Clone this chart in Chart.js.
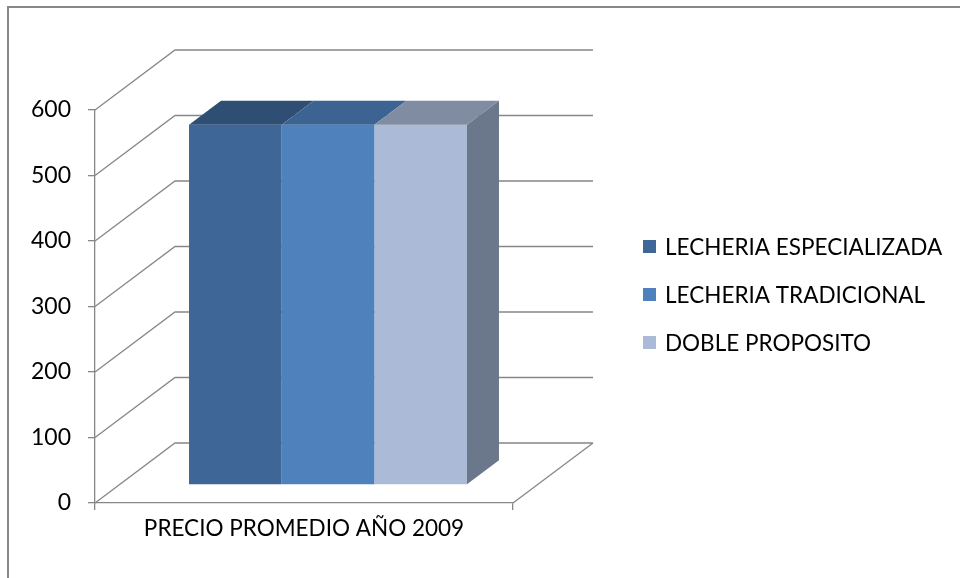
<!DOCTYPE html>
<html><head><meta charset="utf-8">
<script src="https://cdn.jsdelivr.net/npm/chart.js@4/dist/chart.umd.min.js"></script>
<style>
html,body{margin:0;padding:0;background:#fff;}
#wrap{position:relative;width:960px;height:578px;overflow:hidden;}
#frame{position:absolute;left:7px;top:6px;width:1000px;height:700px;border-left:2px solid #888;border-top:2px solid #888;}
canvas{position:absolute;left:0;top:0;}
</style></head>
<body><div id="wrap"><div id="frame"></div><canvas id="c" width="960" height="578"></canvas></div>
<script>
const categories = ["PRECIO PROMEDIO AÑO 2009"];
const seriesNames = ["LECHERIA ESPECIALIZADA", "LECHERIA TRADICIONAL", "DOBLE PROPOSITO"];
const lecheriaEspecializada = [550];
const lecheriaTradicional = [550];
const dobleProposito = [550];
const yTicks = [0, 100, 200, 300, 400, 500, 600];

const frontColors = ["#3E6697", "#4F81BD", "#AABAD7"];
const topColors = ["#2E4E74", "#3C6391", "#7F8CA2"];
const sideColor = "#6B778B";
const gridColor = "#878787";
const FONT = "Lato, 'Open Sans', sans-serif";

// 3D geometry: floor depth vector, bar depth range
const DEPTH = {dx: 80, dy: -60};
const BAR_FRONT = 0.3, BAR_BACK = 0.7;

const threeD = {
  id: 'threeD',
  beforeDatasetsDraw(chart) {
    const ctx = chart.ctx, y = chart.scales.y;
    const L = chart.chartArea.left, R = chart.chartArea.right;
    ctx.save();
    ctx.strokeStyle = gridColor; ctx.lineWidth = 1.3;
    ctx.beginPath();
    yTicks.forEach(v => {
      const py = y.getPixelForValue(v);
      ctx.moveTo(L, py);
      ctx.lineTo(L + DEPTH.dx, py + DEPTH.dy);
      ctx.lineTo(R + DEPTH.dx, py + DEPTH.dy);
    });
    const p0 = y.getPixelForValue(0);
    ctx.moveTo(R, p0);
    ctx.lineTo(R + DEPTH.dx, p0 + DEPTH.dy);
    ctx.stroke();
    ctx.restore();
    chart.ctx.save();
    chart.ctx.translate(DEPTH.dx * BAR_FRONT, DEPTH.dy * BAR_FRONT);
  },
  afterDatasetsDraw(chart) {
    const ctx = chart.ctx;
    const bx = DEPTH.dx * (BAR_BACK - BAR_FRONT), by = DEPTH.dy * (BAR_BACK - BAR_FRONT);
    const metas = chart.data.datasets.map((d, i) => chart.getDatasetMeta(i));
    metas.forEach((meta, i) => {
      meta.data.forEach(bar => {
        const p = bar.getProps(['x', 'y', 'base', 'width'], true);
        const x1 = p.x - p.width / 2, x2 = p.x + p.width / 2;
        ctx.fillStyle = topColors[i];
        ctx.beginPath();
        ctx.moveTo(x1, p.y); ctx.lineTo(x1 + bx, p.y + by);
        ctx.lineTo(x2 + bx, p.y + by); ctx.lineTo(x2, p.y);
        ctx.closePath(); ctx.fill();
        if (i === metas.length - 1) {
          ctx.fillStyle = sideColor;
          ctx.beginPath();
          ctx.moveTo(x2, p.y); ctx.lineTo(x2 + bx, p.y + by);
          ctx.lineTo(x2 + bx, p.base + by); ctx.lineTo(x2, p.base);
          ctx.closePath(); ctx.fill();
        }
      });
    });
    ctx.restore();
  },
  afterDraw(chart) {
    const ctx = chart.ctx;
    ctx.save();
    ctx.font = "22.5px " + FONT;
    ctx.textBaseline = 'middle';
    chart.data.datasets.forEach((d, i) => {
      const yy = 247 + i * 48;
      ctx.fillStyle = frontColors[i];
      ctx.fillRect(643, yy - 7, 13, 13);
      ctx.fillStyle = '#000';
      ctx.fillText(d.label, 665, yy + 1);
    });
    ctx.restore();
  }
};

new Chart(document.getElementById('c'), {
  type: 'bar',
  data: {
    labels: categories,
    datasets: [
      {label: seriesNames[0], data: lecheriaEspecializada, backgroundColor: frontColors[0]},
      {label: seriesNames[1], data: lecheriaTradicional, backgroundColor: frontColors[1]},
      {label: seriesNames[2], data: dobleProposito, backgroundColor: frontColors[2]}
    ]
  },
  options: {
    responsive: false, animation: false,
    layout: {padding: {left: 0, top: 110, right: 447, bottom: 0}},
    plugins: {legend: {display: false}, tooltip: {enabled: false}},
    datasets: {bar: {categoryPercentage: 0.665, barPercentage: 1.0}},
    scales: {
      x: {
        grid: {offset: true, drawOnChartArea: false, drawTicks: true, tickLength: 7, color: gridColor, lineWidth: 1.3},
        border: {display: true, color: gridColor, width: 1.3},
        ticks: {color: '#000', font: {family: FONT, size: 22.5}, padding: 5},
        afterFit(s) { s.height = 75; }
      },
      y: {
        min: 0, max: 600,
        afterBuildTicks(s) { s.ticks = yTicks.map(v => ({value: v})); },
        grid: {drawOnChartArea: false, drawTicks: true, tickLength: 7, color: gridColor, lineWidth: 1.3},
        border: {display: true, color: gridColor, width: 1.3},
        ticks: {color: '#000', font: {family: FONT, size: 23}, padding: 17},
        afterFit(s) { s.width = 95; }
      }
    }
  },
  plugins: [threeD]
});
</script>
</body></html>
